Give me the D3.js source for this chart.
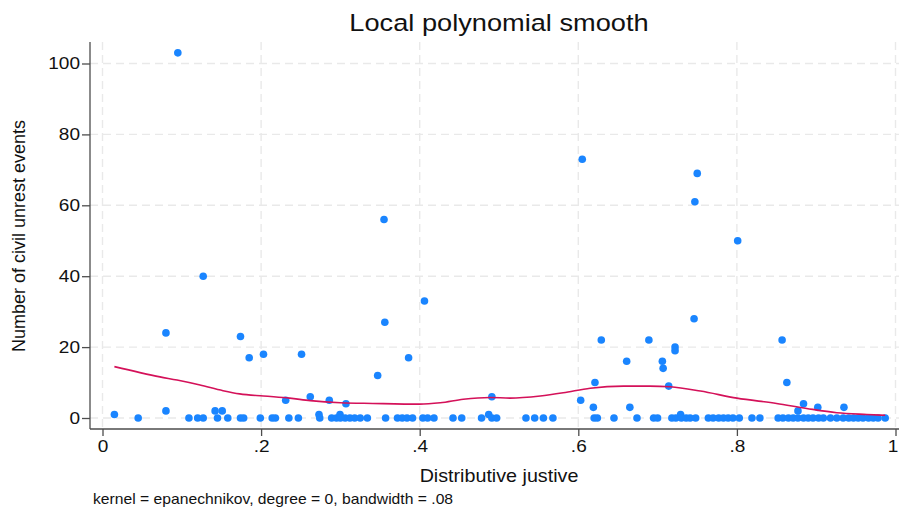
<!DOCTYPE html>
<html>
<head>
<meta charset="utf-8">
<script src="https://cdn.jsdelivr.net/npm/d3@7"></script>
<style>
    body { margin: 0; background: #ffffff; }
    text { font-family: "Liberation Sans", Arial, Helvetica, sans-serif; fill: #111111; }
</style>
</head>
<body>
<div id="lpolyChart"></div>
<script>
// Distributive justice score of each observation
var justice = [0.015, 0.045, 0.080, 0.080, 0.095, 0.109, 0.120, 0.127, 0.127, 0.142,
    0.145, 0.151, 0.158, 0.174, 0.174, 0.178, 0.185, 0.199, 0.203, 0.214,
    0.218, 0.231, 0.235, 0.247, 0.251, 0.262, 0.273, 0.274, 0.286, 0.289,
    0.295, 0.2995, 0.300, 0.306, 0.307, 0.312, 0.318, 0.325, 0.334, 0.347,
    0.355, 0.356, 0.357, 0.372, 0.378, 0.384, 0.386, 0.391, 0.404, 0.406,
    0.410, 0.418, 0.442, 0.453, 0.478, 0.487, 0.491, 0.491, 0.497, 0.534,
    0.545, 0.556, 0.568, 0.603, 0.605, 0.619, 0.620, 0.621, 0.624, 0.629,
    0.645, 0.661, 0.665, 0.674, 0.689, 0.695, 0.700, 0.706, 0.707, 0.714,
    0.718, 0.722, 0.722, 0.723, 0.729, 0.730, 0.736, 0.741, 0.746, 0.747,
    0.748, 0.750, 0.764, 0.770, 0.777, 0.783, 0.789, 0.795, 0.801, 0.803,
    0.819, 0.829, 0.852, 0.857, 0.858, 0.863, 0.865, 0.871, 0.877, 0.877,
    0.884, 0.884, 0.890, 0.896, 0.902, 0.903, 0.909, 0.918, 0.926, 0.934,
    0.935, 0.941, 0.947, 0.953, 0.959, 0.966, 0.972, 0.978, 0.987];

// Number of civil unrest events, same order as justice
var unrest = [1, 0, 24, 2, 103, 0, 0, 0, 40, 2,
    0, 2, 0, 23, 0, 0, 17, 0, 18, 0,
    0, 5, 0, 0, 18, 6, 1, 0, 5, 0,
    0, 1, 0, 0, 4, 0, 0, 0, 0, 12,
    56, 27, 0, 0, 0, 0, 17, 0, 0, 33,
    0, 0, 0, 0, 0, 1, 6, 0, 0, 0,
    0, 0, 0, 5, 73, 3, 0, 10, 0, 22,
    0, 16, 3, 0, 22, 0, 0, 16, 14, 9,
    0, 20, 19, 0, 1, 0, 0, 0, 28, 61,
    0, 69, 0, 0, 0, 0, 0, 0, 50, 0,
    0, 0, 0, 22, 0, 10, 0, 0, 2, 0,
    4, 0, 0, 0, 3, 0, 0, 0, 0, 0,
    3, 0, 0, 0, 0, 0, 0, 0, 0];

// Local polynomial smooth
var smoothX = [0.015, 0.0725, 0.094, 0.123, 0.152, 0.173, 0.203, 0.236, 0.262, 0.300,
    0.341, 0.400, 0.426, 0.455, 0.489, 0.514, 0.552, 0.581, 0.615, 0.657,
    0.690, 0.716, 0.754, 0.800, 0.850, 0.888, 0.926, 0.964, 0.987];
var smoothY = [14.5, 11.6, 10.7, 9.3, 7.7, 6.8, 6.2, 5.6, 4.9, 4.3,
    4.1, 3.9, 4.3, 5.3, 5.8, 5.6, 6.2, 7.1, 8.4, 9.0,
    9.0, 8.8, 7.6, 5.6, 4.1, 2.7, 1.5, 1.0, 0.76];

// Tick values and labels
var xTicks = [0, 0.2, 0.4, 0.6, 0.8, 1];
var xTickLabels = ["0", ".2", ".4", ".6", ".8", "1"];
var yTicks = [0, 20, 40, 60, 80, 100];

// Setting chart parameters
var properties = {
    width: 899,
    height: 509,
    plot: { left: 90, right: 899, top: 42, bottom: 429 },
    textStretch: 1.12
};

var colors = {
    marker: "#1a85ff",
    line: "#d41159",
    grid: "#e9e9e9",
    axis: "#4d4d4d"
};

// Scales
var xScale = d3.scaleLinear().domain([0, 1]).range([102.5, 895.5]);
var yScale = d3.scaleLinear().domain([0, 100]).range([418, 63.5]);

// Appending the chart SVG
var svg = d3.select("#lpolyChart")
    .append("svg")
    .attr("width", properties.width)
    .attr("height", properties.height);

// helper for horizontally stretched text like the Stata export
function addText(x, y, str, size, anchor) {
    return svg.append("text")
        .attr("transform", "translate(" + x + "," + y + ") scale(" + properties.textStretch + ",1)")
        .attr("text-anchor", anchor)
        .style("font-size", size + "px")
        .text(str);
}

// Grid lines
var grid = svg.append("g").attr("class", "grid")
    .attr("stroke", colors.grid)
    .attr("stroke-width", 1.4)
    .attr("stroke-dasharray", "8,5");

grid.selectAll(".vgrid")
    .data(xTicks)
    .enter()
    .append("line")
    .attr("x1", function (d) { return xScale(d); })
    .attr("x2", function (d) { return xScale(d); })
    .attr("y1", properties.plot.top)
    .attr("y2", properties.plot.bottom);

grid.selectAll(".hgrid")
    .data(yTicks)
    .enter()
    .append("line")
    .attr("x1", properties.plot.left)
    .attr("x2", properties.plot.right)
    .attr("y1", function (d) { return yScale(d); })
    .attr("y2", function (d) { return yScale(d); });

// Axes
var xAxis = d3.axisBottom(xScale)
    .tickValues(xTicks)
    .tickFormat(function (d, i) { return xTickLabels[i]; })
    .tickSize(7)
    .tickSizeOuter(0);

var yAxis = d3.axisLeft(yScale)
    .tickValues(yTicks)
    .tickSize(8)
    .tickSizeOuter(0);

var gx = svg.append("g")
    .attr("transform", "translate(0," + properties.plot.bottom + ")")
    .call(xAxis);
gx.select(".domain").remove();
gx.append("line")
    .attr("x1", properties.plot.left).attr("x2", properties.plot.right)
    .attr("stroke", colors.axis).attr("stroke-width", 1.3);

var gy = svg.append("g")
    .attr("transform", "translate(" + properties.plot.left + ",0)")
    .call(yAxis);
gy.select(".domain").remove();
gy.append("line")
    .attr("y1", properties.plot.top).attr("y2", properties.plot.bottom)
    .attr("stroke", colors.axis).attr("stroke-width", 1.3);

svg.selectAll(".tick line").attr("stroke", colors.axis).attr("stroke-width", 1.3);

// Restyle tick labels with the wider Stata look
gx.selectAll(".tick text")
    .attr("y", 11)
    .attr("x", 0)
    .attr("dy", "0.71em")
    .attr("transform", "scale(" + properties.textStretch + ",1)")
    .style("font-size", "17px")
    .attr("fill", "#111111");
// last label sits on the window edge, keep it inside
gx.selectAll(".tick text")
    .filter(function (d) { return d === 1; })
    .attr("text-anchor", "end")
    .attr("x", 2);
gy.selectAll(".tick text")
    .attr("x", -10 / properties.textStretch)
    .attr("transform", "scale(" + properties.textStretch + ",1)")
    .style("font-size", "17px")
    .attr("fill", "#111111");

// Scatter points
var points = justice.map(function (d, i) { return { x: d, y: unrest[i] }; });

svg.append("g").selectAll("circle")
    .data(points)
    .enter()
    .append("circle")
    .attr("cx", function (d) { return xScale(d.x); })
    .attr("cy", function (d) { return yScale(d.y); })
    .attr("r", 3.8)
    .attr("fill", colors.marker);

// Smooth line
var smooth = smoothX.map(function (d, i) { return [d, smoothY[i]]; });
var line = d3.line()
    .x(function (d) { return xScale(d[0]); })
    .y(function (d) { return yScale(d[1]); })
    .curve(d3.curveMonotoneX);

svg.append("path")
    .datum(smooth)
    .attr("d", line)
    .attr("fill", "none")
    .attr("stroke", colors.line)
    .attr("stroke-width", 1.6);

// Titles and note
addText(499, 31, "Local polynomial smooth", 24.3, "middle");
addText(499, 482, "Distributive justive", 17.6, "middle");
addText(93, 504, "kernel = epanechnikov, degree = 0, bandwidth = .08", 14, "start");

svg.append("text")
    .attr("transform", "translate(25,236) rotate(-90)")
    .attr("text-anchor", "middle")
    .style("font-size", "18px")
    .text("Number of civil unrest events");
</script>
</body>
</html>
